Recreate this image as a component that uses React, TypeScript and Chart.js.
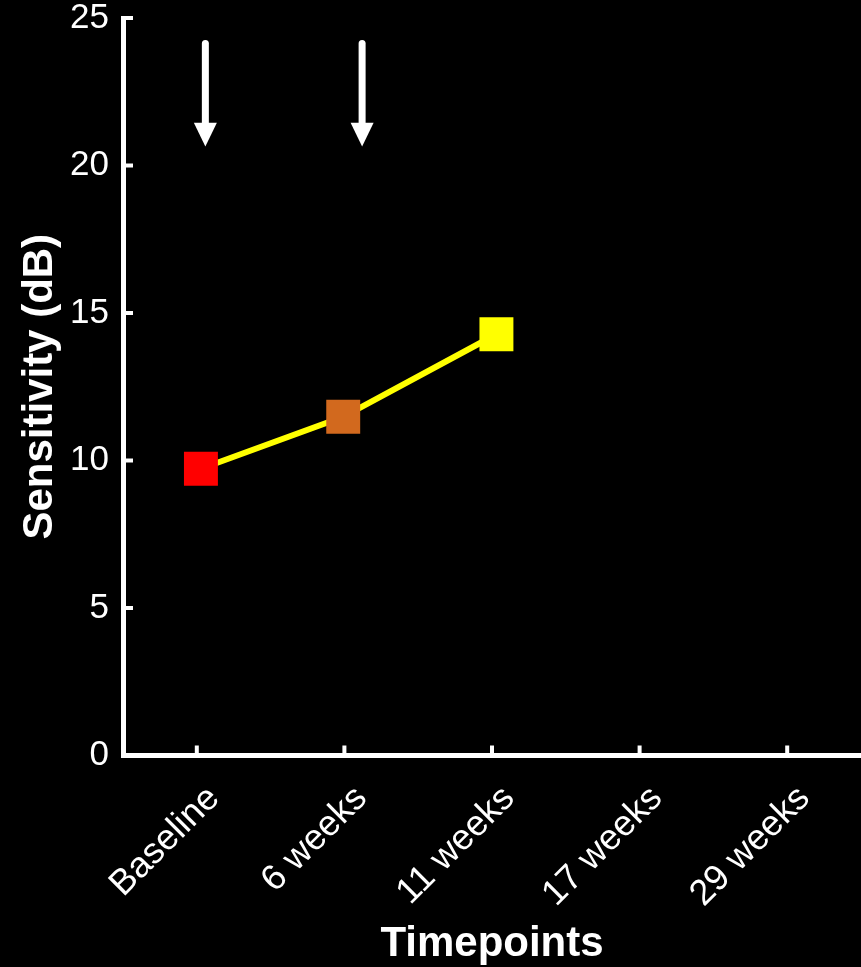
import React, { useEffect, useRef } from "react";
import { Chart, registerables } from "chart.js";

Chart.register(...registerables);

// ---- data ----
const timepoints = ["Baseline", "6 weeks", "11 weeks", "17 weeks", "29 weeks"];
const measuredIndex = [0, 1, 2];
const measuredJitter = [0.028, -0.008, 0.03];
const sensitivity = [9.72, 11.48, 14.28];
const pointColors = ["#ff0000", "#d2691e", "#ffff00"];
const arrowPositions = [0.058, 1.12];
const arrowTop = 24.24;
const arrowHeadBase = 21.45;
const arrowTip = 20.64;
const yTickValues = [0, 5, 10, 15, 20, 25];

const FONT = "'Liberation Sans', Arial, Helvetica, sans-serif";

const inwardTicks = {
  id: "inwardTicks",
  afterDraw(chart: any) {
    const { ctx, scales } = chart;
    const x = scales.x;
    const y = scales.y;
    const area = chart.chartArea;
    ctx.save();
    ctx.strokeStyle = "#ffffff";
    ctx.lineWidth = 4;
    ctx.lineCap = "butt";
    timepoints.forEach((_, i) => {
      const px = x.getPixelForValue(i);
      ctx.beginPath();
      ctx.moveTo(px, area.bottom);
      ctx.lineTo(px, area.bottom - 10);
      ctx.stroke();
    });
    yTickValues.forEach((v) => {
      const py = y.getPixelForValue(v);
      ctx.beginPath();
      ctx.moveTo(area.left, py);
      ctx.lineTo(area.left + 10, py);
      ctx.stroke();
    });
    ctx.restore();
  },
};

const arrows = {
  id: "arrows",
  afterDatasetsDraw(chart: any) {
    const { ctx, scales } = chart;
    const x = scales.x;
    const y = scales.y;
    ctx.save();
    ctx.strokeStyle = "#ffffff";
    ctx.fillStyle = "#ffffff";
    arrowPositions.forEach((a) => {
      const px = x.getPixelForValue(a);
      const top = y.getPixelForValue(arrowTop);
      const base = y.getPixelForValue(arrowHeadBase);
      const tip = y.getPixelForValue(arrowTip);
      ctx.lineWidth = 7;
      ctx.lineCap = "round";
      ctx.beginPath();
      ctx.moveTo(px, top + 3);
      ctx.lineTo(px, base + 2);
      ctx.stroke();
      ctx.beginPath();
      ctx.moveTo(px - 11.5, base);
      ctx.lineTo(px + 11.5, base);
      ctx.lineTo(px, tip);
      ctx.closePath();
      ctx.fill();
    });
    ctx.restore();
  },
};

export default function App() {
  const ref = useRef<HTMLCanvasElement | null>(null);

  useEffect(() => {
    if (!ref.current) return;
    const data = measuredIndex.map((idx, i) => ({
      x: idx + measuredJitter[i],
      y: sensitivity[i],
    }));
    const chart = new Chart(ref.current, {
      type: "line",
      data: {
        datasets: [
          {
            data,
            borderColor: "#ffff00",
            borderWidth: 6,
            pointStyle: "rect",
            pointRadius: 24,
            pointHoverRadius: 24,
            pointBackgroundColor: pointColors,
            pointBorderColor: pointColors,
            pointBorderWidth: 0,
            tension: 0,
            clip: false,
          },
        ],
      },
      options: {
        responsive: false,
        animation: false,
        devicePixelRatio: 1,
        layout: {
          autoPadding: false,
          padding: { top: 18, left: 0, right: 0, bottom: 0 },
        },
        plugins: {
          legend: { display: false },
          tooltip: { enabled: false },
        },
        scales: {
          x: {
            type: "linear",
            min: -0.5,
            max: 4.5,
            grid: { display: false, drawTicks: false },
            border: { display: true, color: "#ffffff", width: 5 },
            afterFit: (s: any) => {
              s.height = 211.5;
              s.paddingLeft = 0;
              s.paddingRight = 0;
            },
            afterBuildTicks: (s: any) => {
              s.ticks = timepoints.map((_, i) => ({ value: i }));
            },
            ticks: {
              stepSize: 1,
              includeBounds: false,
              autoSkip: false,
              minRotation: 45,
              maxRotation: 45,
              padding: 22,
              labelOffset: 17,
              color: "#ffffff",
              font: { family: FONT, size: 36 },
              callback: (v: any) => timepoints[Math.round(Number(v))] ?? "",
            },
            title: {
              display: true,
              text: "Timepoints",
              color: "#ffffff",
              font: { family: FONT, size: 42, weight: "bold", lineHeight: 1 },
              padding: { top: 0, bottom: 2 },
            },
          },
          y: {
            type: "linear",
            min: 0,
            max: 25,
            grid: { display: false, drawTicks: false },
            border: { display: true, color: "#ffffff", width: 5 },
            afterFit: (s: any) => {
              s.width = 123;
              s.paddingTop = 0;
              s.paddingBottom = 0;
            },
            afterBuildTicks: (s: any) => {
              s.ticks = yTickValues.map((v) => ({ value: v }));
            },
            ticks: {
              padding: 14,
              color: "#ffffff",
              font: { family: FONT, size: 35, lineHeight: 1 },
            },
            title: {
              display: true,
              text: "Sensitivity (dB)",
              color: "#ffffff",
              font: { family: FONT, size: 42, weight: "bold", lineHeight: 1.2 },
              padding: { top: 15, bottom: 0 },
            },
          },
        },
      },
      plugins: [inwardTicks, arrows],
    });
    return () => chart.destroy();
  }, []);

  return (
    <div
      style={{
        position: "fixed",
        left: 0,
        top: 0,
        width: 861,
        height: 967,
        background: "#000000",
      }}
    >
      <canvas ref={ref} width={861} height={967} style={{ display: "block" }} />
    </div>
  );
}
